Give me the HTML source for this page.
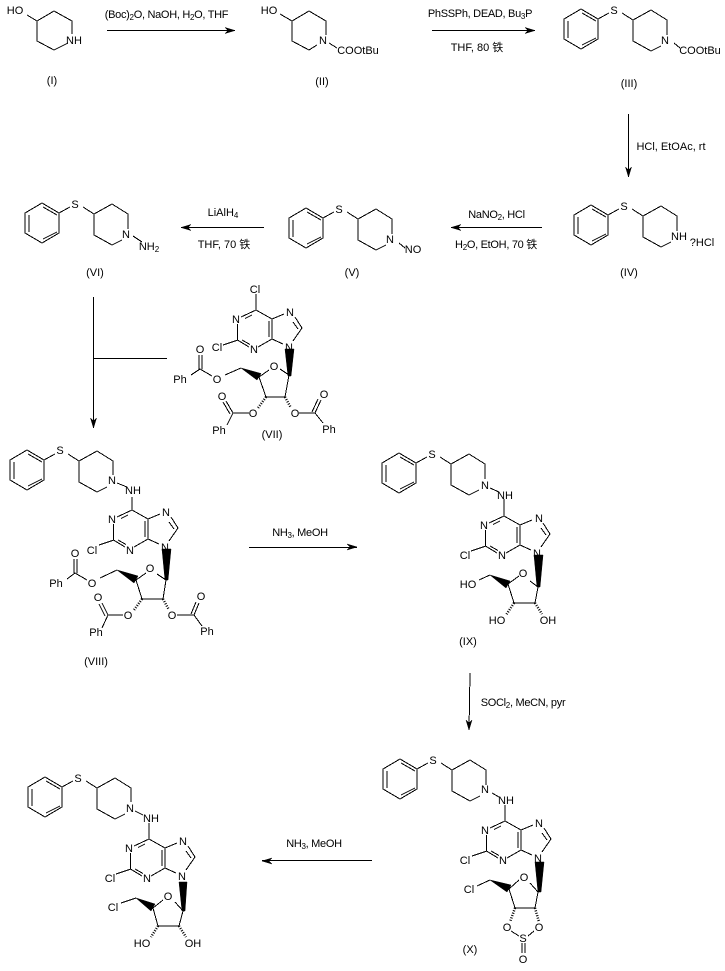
<!DOCTYPE html>
<html><head><meta charset="utf-8"><title>Synthesis scheme</title>
<style>
html,body{margin:0;padding:0;background:#fff}
svg{display:block}
text{font-family:"Liberation Sans","Noto Sans CJK SC",sans-serif;font-size:11px;fill:#000;text-anchor:middle}
.s{font-size:8px}
.r{letter-spacing:-.3px}
.b{fill:none;stroke:#000;stroke-width:1;shape-rendering:crispEdges}
.h{fill:none;stroke:#000;stroke-width:2.5;stroke-dasharray:1 1.5}
polygon{fill:#000;stroke:#000;stroke-width:.5}
</style></head>
<body>
<svg width="725" height="971" viewBox="0 0 725 971" xmlns="http://www.w3.org/2000/svg">
<rect width="725" height="971" fill="#fff"/>

<!-- I -->
<path class="b" d="M27 15L37 21L54 11L72 21V34M68 43L54 50L37 41V21"/>
<text x="15" y="14">HO</text><text x="74" y="44">NH</text>
<text x="52" y="84">(I)</text>

<!-- arrow I-II -->
<path class="b" d="M107 30.500H235"/><polygon points="235,30.500 225,27.500 228,30.500 225,33.500"/>
<text class="r" x="166.500" y="18">(Boc)<tspan class="s" dy="2">2</tspan><tspan dy="-2">O, NaOH, H</tspan><tspan class="s" dy="2">2</tspan><tspan dy="-2">O, THF</tspan></text>

<!-- II -->
<path class="b" d="M280 14L292 21L309 11L326 21V35M317 45L309 50L292 41V21M329 43L337 48"/>
<text x="269" y="14">HO</text><text x="323" y="44">N</text>
<text x="358" y="54">COOtBu</text>
<text x="322" y="85">(II)</text>

<!-- arrow II-III -->
<path class="b" d="M432 30.500H535"/><polygon points="535,30.500 525,27.500 528,30.500 525,33.500"/>
<text class="r" x="480" y="17">PhSSPh, DEAD, Bu<tspan class="s" dy="2">3</tspan><tspan dy="-2">P</tspan></text>
<text x="477" y="51">THF, 80 铁</text>

<!-- III -->
<g transform="translate(581,9)">
<path class="b" d="M0 0L17 10V30L0 40L-17 30V10ZM-13 12V29M1 4L15 12M1 36L15 29M17 10L28 4M41 4L52 11L70 1L86 11V26M80 37L70 42L52 32V11M93 34L99 39"/>
<text x="33" y="5">S</text><text x="84" y="35">N</text>
<text x="119" y="45">COOtBu</text>
</g>
<text x="629" y="87">(III)</text>

<!-- arrow III-IV -->
<path class="b" d="M628.500 114V177"/><polygon points="628.500,177 625.500,167 628.500,170 631.500,167"/>
<text x="671" y="150">HCl, EtOAc, rt</text>

<!-- IV -->
<g transform="translate(591,205)">
<path class="b" d="M0 0L17 10V30L0 40L-17 30V10ZM-13 12V29M1 4L15 12M1 36L15 29M17 10L28 4M41 4L52 11L70 1L86 11V26M80 37L70 42L52 32V11"/>
<text x="33" y="5">S</text><text x="88" y="35">NH</text>
<text x="111" y="41">?HCl</text>
</g>
<text x="629" y="276">(IV)</text>

<!-- arrow IV-V -->
<path class="b" d="M542 227.500H451"/><polygon points="451,227.500 461,224.500 458,227.500 461,230.500"/>
<text class="r" x="496.500" y="218">NaNO<tspan class="s" dy="2">2</tspan><tspan dy="-2">, HCl</tspan></text>
<text class="r" x="496" y="248">H<tspan class="s" dy="2">2</tspan><tspan dy="-2">O, EtOH, 70 铁</tspan></text>

<!-- V -->
<g transform="translate(306,208)">
<path class="b" d="M0 0L17 10V30L0 40L-17 30V10ZM-13 12V29M1 4L15 12M1 36L15 29M17 10L28 4M41 4L52 11L70 1L86 11V26M80 37L70 42L52 32V11M93 35L99 40"/>
<text x="33" y="5">S</text><text x="84" y="35">N</text>
<text x="107" y="45">NO</text>
</g>
<text x="352" y="276">(V)</text>

<!-- arrow V-VI -->
<path class="b" d="M264 227.500H181"/><polygon points="181,227.500 191,224.500 188,227.500 191,230.500"/>
<text x="223" y="216">LiAlH<tspan class="s" dy="2">4</tspan></text>
<text x="224" y="248">THF, 70 铁</text>

<!-- VI -->
<g transform="translate(42,203)">
<path class="b" d="M0 0L17 10V30L0 40L-17 30V10ZM-13 12V29M1 4L15 12M1 36L15 29M17 10L28 4M41 4L52 11L70 1L86 11V26M80 37L70 42L52 32V11M91 33L100 39"/>
<text x="33" y="5">S</text><text x="84" y="35">N</text>
<text x="107" y="47">NH<tspan class="s" dy="2">2</tspan></text>
</g>
<text x="95" y="276">(VI)</text>

<!-- T arrow -->
<path class="b" d="M93.500 297V428M93 358.500H167"/><polygon points="93.500,428 90.500,418 93.500,421 96.500,418"/>

<!-- VII -->
<path class="b" d="M256 294V310L241 317M252 315L245 318.500M237.500 324V340L249 347M242 340L250 344.500M258 347L272 339V319M269 321V337M272 319L256 310M272 319L284 314M295 317L302 328M293 322L298 329M302 328L293 341M272 339L283 344M223 345L238 340"/>
<text x="255" y="293">Cl</text><text x="236" y="323">N</text><text x="217" y="351">Cl</text><text x="254" y="353">N</text><text x="290" y="316">N</text><text x="289" y="351">N</text>
<polygon points="285,349 294,349 291,376 288,376"/>
<path class="b" d="M280 369L289 375L285 397H266L259 377L269 370M241 368L225 375M200 369L212 376M199 355V369M202 355V369M191 375L200 369"/>
<polygon points="241,368 261,373.500 257,380"/>
<text x="274" y="370">O</text><text x="217" y="383">O</text><text x="200" y="353">O</text><text x="180" y="383">Ph</text>
<path class="h" d="M266 397L258 408"/>
<path class="b" d="M249 413H233M233 413L226 401M230 414L223 402M233 413L227 425"/>
<text x="253" y="417">O</text><text x="222" y="400">O</text><text x="219" y="434">Ph</text>
<path class="h" d="M285 397L291 408"/>
<path class="b" d="M299 413H315M315 413L321 400M312 412L318 399M315 413L323 423"/>
<text x="295" y="417">O</text><text x="324" y="398">O</text><text x="329" y="433">Ph</text>
<text x="272" y="438">(VII)</text>

<!-- VIII -->
<g transform="translate(27,450)">
<path class="b" d="M0 0L17 10V30L0 40L-17 30V10ZM-13 12V29M1 4L15 12M1 36L15 29M17 10L28 4M41 4L52 11L70 1L86 11V25M80 37L70 42L52 32V11"/>
<text x="33" y="4">S</text><text x="85" y="34">N</text>
</g>
<path class="b" d="M117 483L127 487M132 497V510"/><text x="133" y="494">NH</text>
<g transform="translate(-124,200)">
<path class="b" d="M256 310L241 317M252 315L245 318.500M237.500 324V340L249 347M242 340L250 344.500M258 347L272 339V319M269 321V337M272 319L256 310M272 319L284 314M295 317L302 328M293 322L298 329M302 328L293 341M272 339L283 344M223 345L238 340"/>
<text x="236" y="323">N</text><text x="216" y="354">Cl</text><text x="254" y="354">N</text><text x="290" y="316">N</text><text x="289" y="351">N</text>
</g>
<polygon points="162,549 171,549 168,580 165,580"/>
<path class="b" d="M157 574L166 580L163 599H142L136 580L146 573M117 570L100 578M75 573L87 580M74 559V573M77 559V573M67 579L75 573"/>
<polygon points="117,570 138,576 134,583"/>
<text x="150" y="572">O</text><text x="92" y="587">O</text><text x="75" y="557">O</text><text x="56" y="587">Ph</text>
<path class="h" d="M142 599L134 610"/>
<path class="b" d="M123 615H108M108 615L102 603M105 616L99 604M108 615L102 628"/>
<text x="128" y="619">O</text><text x="98" y="601">O</text><text x="96" y="636">Ph</text>
<path class="h" d="M163 599L169 610"/>
<path class="b" d="M177 615H194M194 615L199 603M191 614L196 602M194 615L202 626"/>
<text x="172" y="619">O</text><text x="201" y="600">O</text><text x="207" y="635">Ph</text>
<text x="96" y="665">(VIII)</text>

<!-- arrow VIII-IX -->
<path class="b" d="M249 547.500H357"/><polygon points="357,547 347,544 350,547 347,550"/>
<text class="r" x="300" y="536">NH<tspan class="s" dy="2">3</tspan><tspan dy="-2">, MeOH</tspan></text>

<!-- IX -->
<g transform="translate(399,453)">
<path class="b" d="M0 0L17 10V30L0 40L-17 30V10ZM-13 12V29M1 4L15 12M1 36L15 29M17 10L28 4M41 4L52 11L70 1L86 11V26M80 37L70 42L52 32V11"/>
<text x="33" y="5">S</text><text x="86" y="36">N</text>
</g>
<path class="b" d="M490 488L499 492M504 499V516"/><text x="505" y="499">NH</text>
<g transform="translate(248,206)">
<path class="b" d="M256 310L241 317M252 315L245 318.500M237.500 324V340L249 347M242 340L250 344.500M258 347L272 339V319M269 321V337M272 319L256 310M272 319L284 314M295 317L302 328M293 322L298 329M302 328L293 341M272 339L283 344M223 345L238 340"/>
<text x="236" y="323">N</text><text x="217" y="353">Cl</text><text x="254" y="353">N</text><text x="291" y="316">N</text><text x="289" y="351">N</text>
</g>
<polygon points="534,555 543,555 540,587 537,587"/>
<path class="b" d="M530 581L538 587L535 603H514L508 584L519 576M490 575L479 580"/>
<polygon points="490,575 510,581 506,588"/>
<text x="523" y="577">O</text><text x="468" y="588">HO</text>
<path class="h" d="M514 603L506 615"/><path class="h" d="M535 603L542 614"/>
<text x="497" y="624">HO</text><text x="548" y="624">OH</text>
<text x="468" y="645">(IX)</text>

<!-- arrow IX-X -->
<path class="b" d="M470 673L469 730"/><polygon points="469,730 466,720 469,723 472,720"/>
<text class="r" x="523" y="706">SOCl<tspan class="s" dy="2">2</tspan><tspan dy="-2">, MeCN, pyr</tspan></text>

<!-- X -->
<g transform="translate(400,759)">
<path class="b" d="M0 0L17 10V30L0 40L-17 30V10ZM-13 12V29M1 4L15 12M1 36L15 29M17 10L28 4M41 4L52 11L70 1L86 11V26M80 37L70 42L52 32V11"/>
<text x="33" y="5">S</text><text x="85" y="34">N</text>
</g>
<path class="b" d="M492 793L499 797M505 805V821"/><text x="506" y="804">NH</text>
<g transform="translate(249,511)">
<path class="b" d="M256 310L241 317M252 315L245 318.500M237.500 324V340L249 347M242 340L250 344.500M258 347L272 339V319M269 321V337M272 319L256 310M272 319L284 314M295 317L302 328M293 322L298 329M302 328L293 341M272 339L283 344M223 345L238 340"/>
<text x="236" y="323">N</text><text x="216" y="353">Cl</text><text x="254" y="353">N</text><text x="290" y="316">N</text><text x="289" y="351">N</text>
</g>
<polygon points="535,862 544,862 541,892 538,892"/>
<path class="b" d="M530 883L538 892L535 908H515L509 889L519 880M490 880L477 886"/>
<polygon points="490,880 511,885 507,892"/>
<text x="524" y="881">O</text><text x="469" y="893">Cl</text>
<path class="h" d="M515 908L510 922"/><path class="h" d="M535 908L539 922"/>
<text x="507" y="931">O</text><text x="539" y="931">O</text>
<path class="b" d="M511 931L519 936M534 931L528 936M522 943V953M525 943V953"/>
<text x="523" y="942">S</text><text x="523" y="963">O</text>
<text x="470" y="953">(X)</text>

<!-- arrow X-final -->
<path class="b" d="M372 860.500H262"/><polygon points="262,861 272,858 269,861 272,864"/>
<text class="r" x="314" y="847">NH<tspan class="s" dy="2">3</tspan><tspan dy="-2">, MeOH</tspan></text>

<!-- final -->
<g transform="translate(45,777)">
<path class="b" d="M0 0L17 10V30L0 40L-17 30V10ZM-13 12V29M1 4L15 12M1 36L15 29M17 10L28 4M41 4L52 11L70 1L86 11V25M80 37L70 42L52 32V11"/>
<text x="33" y="5">S</text><text x="85" y="35">N</text>
</g>
<path class="b" d="M135 811L143 815M149 823V839"/><text x="151" y="822">NH</text>
<g transform="translate(-107,529)">
<path class="b" d="M256 310L241 317M252 315L245 318.500M237.500 324V340L249 347M242 340L250 344.500M258 347L272 339V319M269 321V337M272 319L256 310M272 319L284 314M295 317L302 328M293 322L298 329M302 328L293 341M272 339L283 344M223 345L238 340"/>
<text x="236" y="323">N</text><text x="217" y="353">Cl</text><text x="254" y="353">N</text><text x="290" y="316">N</text><text x="289" y="351">N</text>
</g>
<polygon points="179,882 187,882 185,911 182,911"/>
<path class="b" d="M175 902L183 911L179 926H158L153 908L163 900M136 898L121 903"/>
<polygon points="136,898 155,904 151,911"/>
<text x="168" y="900">O</text><text x="113" y="911">Cl</text>
<path class="h" d="M158 926L151 937"/><path class="h" d="M179 926L186 937"/>
<text x="142" y="947">HO</text><text x="193" y="947">OH</text>
</svg>
</body></html>
